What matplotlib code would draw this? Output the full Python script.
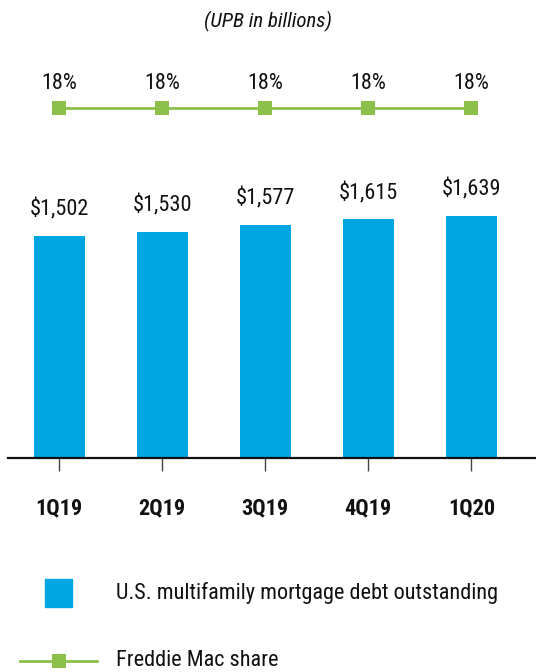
import matplotlib
matplotlib.use("Agg")
import matplotlib.pyplot as plt
from matplotlib.patches import Rectangle
from matplotlib.lines import Line2D
from matplotlib import font_manager

names = {f.name for f in font_manager.fontManager.ttflist}
FONT = next((n for n in ["Roboto Condensed", "Archivo Narrow", "PT Sans Narrow", "Liberation Sans"] if n in names), "DejaVu Sans")
plt.rcParams['font.family'] = [FONT, 'DejaVu Sans']

quarters = ["1Q19", "2Q19", "3Q19", "4Q19", "1Q20"]
debt = [1502, 1530, 1577, 1615, 1639]
share = [18, 18, 18, 18, 18]

BLUE = "#00A6E2"
GREEN = "#8CC04B"
INK = "#111111"
FS = 16

W, H = 536, 672
fig = plt.figure(figsize=(W / 100, H / 100), dpi=100)

ax_bottom = 458
ax_top = 60
ax = fig.add_axes([8 / W, 1 - ax_bottom / H, (W - 8) / W, (ax_bottom - ax_top) / H])
x = list(range(len(quarters)))
ax.bar(x, debt, width=0.5, color=BLUE, zorder=2)
ax.set_xlim(-0.498, 4.628)
ax.set_ylim(0, 2694)
for xi, v in zip(x, debt):
    ax.annotate(f"${v:,}", (xi, v), xytext=(0, 11), textcoords="offset points",
                ha="center", va="bottom", fontsize=FS, color=INK)
for s in ["top", "right", "left"]:
    ax.spines[s].set_visible(False)
ax.spines["bottom"].set_linewidth(1.6)
ax.spines["bottom"].set_color(INK)
ax.set_yticks([])
ax.set_xticks(x)
ax.set_xticklabels(quarters, fontweight="bold", fontsize=FS, color=INK)
ax.tick_params(axis="x", length=9.5, width=1, color="#444444", pad=19)

ax2 = ax.twinx()
ax2.set_ylim(0, 18 / 0.8794)
ax2.plot(x, share, color=GREEN, lw=2, marker="s", markersize=10, markeredgewidth=0, zorder=3)
for xi, v in zip(x, share):
    ax2.annotate(f"{v}%", (xi, v), xytext=(0, 10), textcoords="offset points",
                 ha="center", va="bottom", fontsize=FS, color=INK)
ax2.axis("off")

fig.text(0.5, 1 - 21 / H, "(UPB in billions)", ha="center", va="center",
         fontsize=FS - 1, style="italic", color=INK)

# legend
fig.patches.append(Rectangle((45 / W, 1 - 607 / H), 27 / W, 28 / H,
                             transform=fig.transFigure, color=BLUE, figure=fig))
fig.text(116 / W, 1 - 593 / H, "U.S. multifamily mortgage debt outstanding",
         ha="left", va="center", fontsize=FS, color=INK)
fig.lines.append(Line2D([20 / W, 97 / W], [1 - 661 / H, 1 - 661 / H], color=GREEN, lw=2,
                        transform=fig.transFigure, figure=fig))
fig.lines.append(Line2D([59 / W], [1 - 661 / H], color=GREEN, marker="s", markersize=10,
                        markeredgewidth=0, transform=fig.transFigure, figure=fig))
fig.text(116 / W, 1 - 661 / H, "Freddie Mac share",
         ha="left", va="center", fontsize=FS, color=INK)

fig.savefig("out.png", dpi=100)
